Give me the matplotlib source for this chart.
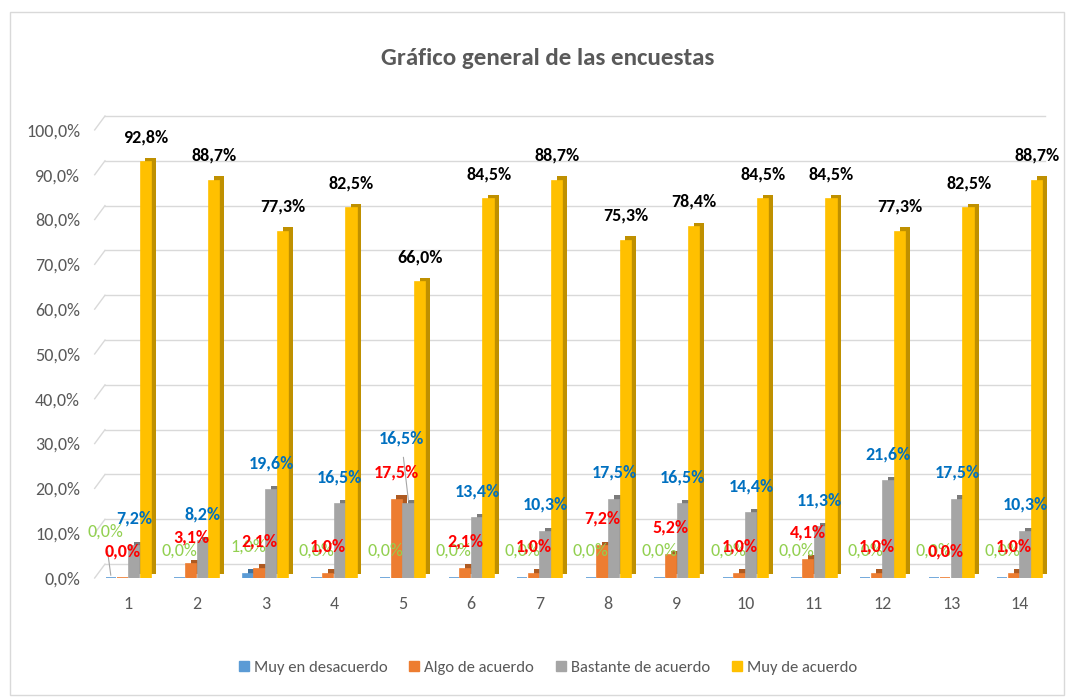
import matplotlib
matplotlib.use("Agg")
import matplotlib.pyplot as plt
import matplotlib.patheffects as pe
from matplotlib.patches import Rectangle
import numpy as np

plt.rcParams['font.family'] = ['Carlito', 'Lato', 'DejaVu Sans']

# datos
preguntas = [str(i) for i in range(1, 15)]
series = ["Muy en desacuerdo", "Algo de acuerdo", "Bastante de acuerdo", "Muy de acuerdo"]
muy_desacuerdo = [0.0, 0.0, 1.0, 0.0, 0.0, 0.0, 0.0, 0.0, 0.0, 0.0, 0.0, 0.0, 0.0, 0.0]
algo_acuerdo = [0.0, 3.1, 2.1, 1.0, 17.5, 2.1, 1.0, 7.2, 5.2, 1.0, 4.1, 1.0, 0.0, 1.0]
bastante_acuerdo = [7.2, 8.2, 19.6, 16.5, 16.5, 13.4, 10.3, 17.5, 16.5, 14.4, 11.3, 21.6, 17.5, 10.3]
muy_acuerdo = [92.8, 88.7, 77.3, 82.5, 66.0, 84.5, 88.7, 75.3, 78.4, 84.5, 84.5, 77.3, 82.5, 88.7]
yticks = [0, 10, 20, 30, 40, 50, 60, 70, 80, 90, 100]

valores = [muy_desacuerdo, algo_acuerdo, bastante_acuerdo, muy_acuerdo]
colores = ['#5B9BD5', '#ED7D31', '#A5A5A5', '#FFC000']
lados = ['#41719C', '#AE5A21', '#7B7B7B', '#BF9000']
col_etiqueta = ['#92D050', '#FF0000', '#0070C0', '#000000']
negrita = ['normal', 'bold', 'bold', 'bold']
offsets = [-0.255, -0.085, 0.085, 0.255]
ancho = 0.15

fig = plt.figure(figsize=(10.74, 7), dpi=100)
fig.patches.append(Rectangle((0.009, 0.007), 0.982, 0.976, transform=fig.transFigure,
                             fill=False, edgecolor='#D9D9D9', lw=1))
ax = fig.add_axes([94 / 1074, 122 / 700, 960 / 1074, 466 / 700])

x = np.arange(1, 15)
for i in range(4):
    ax.bar(x + offsets[i], valores[i], width=ancho, color=colores[i],
           edgecolor=colores[i], lw=1.2, zorder=3,
           path_effects=[pe.SimplePatchShadow(offset=(3.5, 3), shadow_rgbFace=lados[i], alpha=1.0),
                         pe.Normal()])

# etiquetas de datos
fs_lab = 13
for i in range(4):
    for j, v in enumerate(valores[i]):
        xx = x[j] + offsets[i]
        yy = v + (5.6 if i == 3 else 6.0)
        txt = f"{v:.1f}%".replace('.', ',')
        if i == 0 and j == 0:
            ax.annotate(txt, xy=(xx, v + 0.6), xytext=(0.66, 10.3), ha='center', va='center',
                        color=col_etiqueta[i], fontsize=fs_lab, fontweight=negrita[i], zorder=5,
                        arrowprops=dict(arrowstyle='-', color='#A6A6A6', lw=0.8, shrinkA=6, shrinkB=0))
            continue
        if i == 2 and j == 4:
            ax.annotate(txt, xy=(xx, v + 0.8), xytext=(x[j] - 0.02, 31.2), ha='center', va='center',
                        color=col_etiqueta[i], fontsize=fs_lab, fontweight=negrita[i], zorder=5,
                        arrowprops=dict(arrowstyle='-', color='#A6A6A6', lw=0.8, shrinkA=6, shrinkB=0))
            continue
        ax.text(xx, yy, txt, ha='center', va='center', color=col_etiqueta[i],
                fontsize=fs_lab, fontweight=negrita[i], zorder=5)

# rejilla con perspectiva
prof = 3.1
for t in yticks:
    ax.plot([0.51, 0.66], [t, t + prof], color='#D9D9D9', lw=1, zorder=1, clip_on=False)
    ax.plot([0.66, 14.37], [t + prof, t + prof], color='#D9D9D9', lw=1, zorder=1, clip_on=False)

ax.set_xlim(0.5, 14.5)
ax.set_ylim(0, 104)
ax.set_yticks(yticks)
ax.set_yticklabels([f"{t:.1f}%".replace('.', ',') for t in yticks])
ax.set_xticks(x)
ax.set_xticklabels(preguntas)
ax.tick_params(axis='both', length=0, labelsize=13, labelcolor='#595959')
ax.tick_params(axis='y', pad=10)
ax.tick_params(axis='x', pad=13)
for s in ax.spines.values():
    s.set_visible(False)

fig.text(0.51, 0.917, "Gráfico general de las encuestas", ha='center', va='center',
         fontsize=18, fontweight='bold', color='#595959')

handles = [Rectangle((0, 0), 1, 1, color=c) for c in colores]
leg = fig.legend(handles, series, loc='center', bbox_to_anchor=(0.51, 0.046), ncol=4,
                 frameon=False, fontsize=12, handlelength=0.6, handleheight=0.6,
                 handletextpad=0.3, columnspacing=1.3)
for t in leg.get_texts():
    t.set_color('#595959')

fig.savefig("out.png", dpi=100)
